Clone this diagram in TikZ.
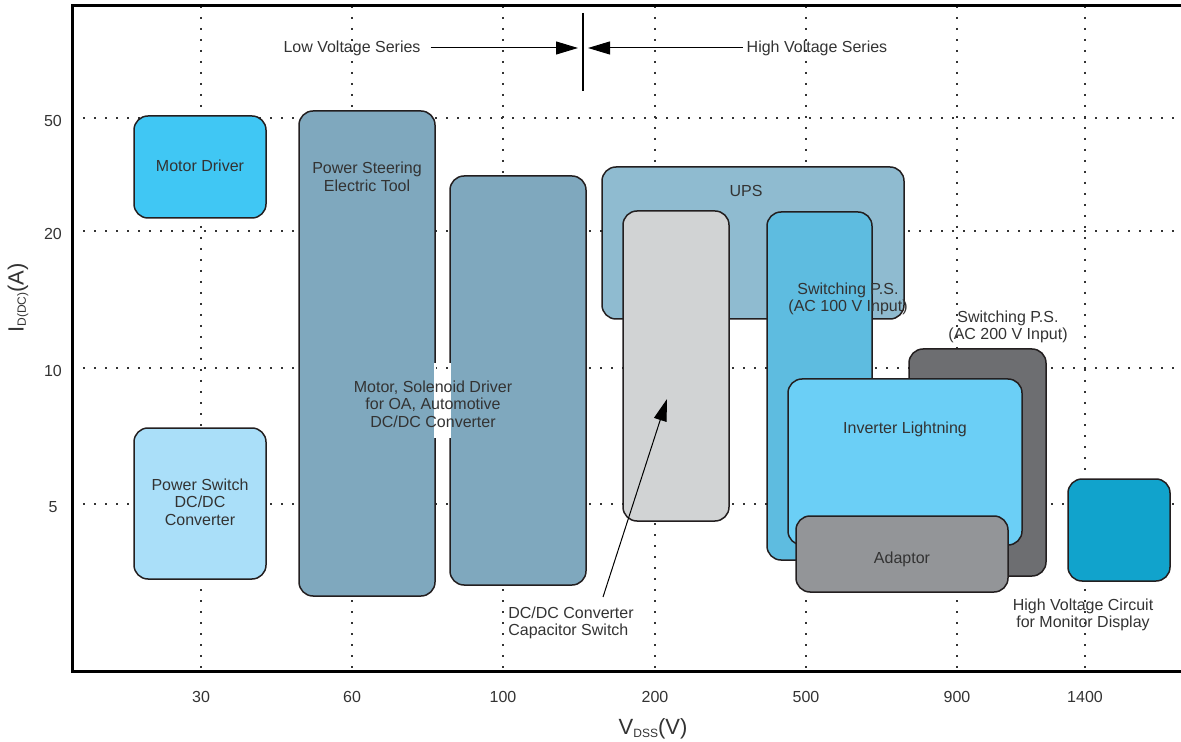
\documentclass[tikz,border=0pt]{standalone}
\usepackage{fontspec}
\setmainfont{Liberation Sans}
\usetikzlibrary{arrows.meta}

\definecolor{txtgray}{HTML}{333333}
\definecolor{boxline}{HTML}{231F20}
\definecolor{cMotor}{HTML}{40C7F4}
\definecolor{cPswitch}{HTML}{AADFF9}
\definecolor{cSteer}{HTML}{7FA8BE}
\definecolor{cUPS}{HTML}{8FBBD0}
\definecolor{cCap}{HTML}{D1D3D4}
\definecolor{cSwOne}{HTML}{5EBCE0}
\definecolor{cSwTwo}{HTML}{6D6E71}
\definecolor{cInv}{HTML}{6BCFF6}
\definecolor{cAdapt}{HTML}{939598}
\definecolor{cHV}{HTML}{11A3CC}

\newcommand{\subtxt}[1]{\raisebox{-1.2pt}{\fontsize{6}{6}\selectfont #1}}

\begin{document}
\begin{tikzpicture}[
  x=0.5pt, y=-0.5pt,
  every node/.style={text=txtgray, font=\fontsize{8}{8.75}\selectfont, align=center},
  appbox/.style={draw=boxline, line width=0.75pt, rounded corners=7pt},
  gridline/.style={draw=txtgray, line width=1pt, dash pattern=on 1pt off 4.5pt},
  frame/.style={draw=black, line width=1.5pt},
  divider/.style={draw=black, line width=1.3pt},
  ptr/.style={draw=black, line width=0.5pt, -{Triangle[length=11pt, width=6.5pt]}},
  axlabel/.style={font=\fontsize{11}{13}\selectfont}
]
\useasboundingbox (0,0) rectangle (1181,742);

% grid and tick labels
\foreach \x/\v in {201/30, 352/60, 503/100, 655/200, 806/500, 957/900, 1085/1400} {
  \draw[gridline] (\x,6) -- (\x,671);
  \node (xt\v) at (\x,697) {\v};
}
\foreach \y/\v in {118/50, 231/20, 368/10, 504/5} {
  \draw[gridline] (72,\y) -- (1181,\y);
  \node (yt\v) at (53,\y+3) {\v};
}

% application areas
\draw[appbox, fill=cMotor] (134,116) rectangle (266,218);
\draw[appbox, fill=cPswitch] (134,428) rectangle (266,579);
\draw[appbox, fill=cSteer] (299,111) rectangle (435,596);
\draw[appbox, fill=cSteer] (450,176) rectangle (586,585);
\fill[white] (433.6,363) rectangle (436.4,438);
\fill[white] (448.6,363) rectangle (451.4,438);
\draw[appbox, fill=cUPS] (602,167) rectangle (904,319);
\draw[appbox, fill=cCap] (623,211) rectangle (729,521);
\draw[appbox, fill=cSwOne] (767,212) rectangle (872,560);
\draw[appbox, fill=cSwTwo] (909,349) rectangle (1046,576);
\draw[appbox, fill=cInv] (788,379) rectangle (1022,545);
\draw[appbox, fill=cAdapt] (796,516) rectangle (1008,592);
\draw[appbox, fill=cHV] (1068,479) rectangle (1170,581);

% labels
\node (motor) at (200,166) {Motor Driver};
\node (pswitch) at (200,502) {Power Switch\\DC/DC\\Converter};
\node (steer) at (367,177) {Power Steering\\Electric Tool};
\node (solenoid) at (433,404) {Motor, Solenoid Driver\\for OA, Automotive\\DC/DC Converter};
\node (ups) at (746,191) {UPS};
\node (swone) at (848,299) {Switching P.S.\\(AC 100 V Input)};
\node (swtwo) at (1008,327) {Switching P.S.\\(AC 200 V Input)};
\node (inv) at (905,429) {Inverter Lightning};
\node (adapt) at (902,559) {Adaptor};
\node (hv) at (1083,615) {High Voltage Circuit\\for Monitor Display};
\node[align=left] (capsw) at (571,623) {DC/DC Converter\\Capacitor Switch};

\coordinate (capfoot) at (603,597);
\coordinate (captip) at (667,399);
\draw[ptr] (capfoot) -- (captip);

% voltage series divider
\node (lowv) at (352,48) {Low Voltage Series};
\node (highv) at (817,48) {High Voltage Series};
\coordinate (divtop) at (583,13);
\coordinate (divbot) at (583,91);
\draw[divider] (divtop) -- (divbot);
\draw[ptr, shorten <=1.5pt, shorten >=2.5pt] (lowv.east) -- (lowv.east -| divtop);
\draw[ptr, shorten <=-1.5pt, shorten >=2.5pt] (highv.west) -- (highv.west -| divtop);

% frame
\draw[frame] (1181,6) -- (72,6) -- (72,671) -- (1181,671);

% axis titles
\node[axlabel] (xlab) at (653,729) {V\subtxt{DSS}(V)};
\node[axlabel, rotate=90] (ylab) at (18,298) {I\subtxt{D(DC)}(A)};
\end{tikzpicture}
\end{document}
